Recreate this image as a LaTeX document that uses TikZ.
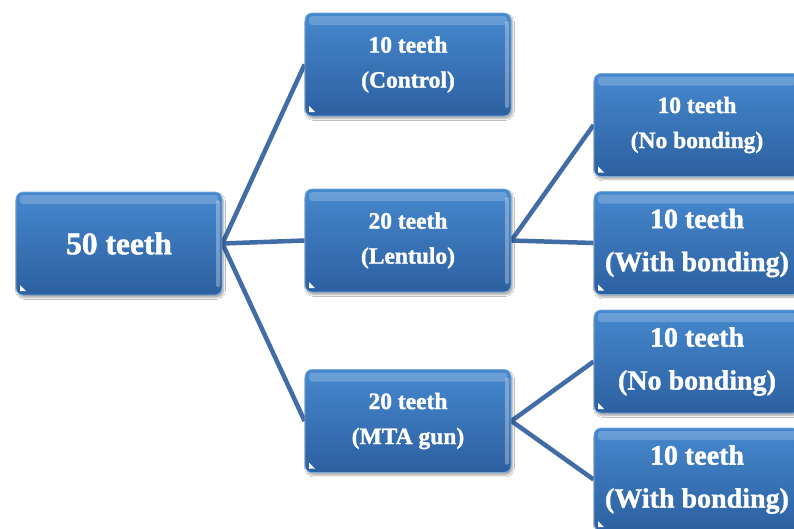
\documentclass[tikz,border=0pt]{standalone}
\usepackage{fontspec}
\setmainfont[BoldFeatures={FakeBold=1.3}]{Liberation Serif}
\usetikzlibrary{backgrounds,shadows.blur}
\definecolor{boxtop}{RGB}{70,136,206}
\definecolor{boxbot}{RGB}{44,96,160}
\definecolor{linkc}{RGB}{66,108,166}
\tikzset{
  tbox/.style={rectangle, rounded corners=7pt, minimum width=206pt, minimum height=103pt,
    inner sep=0pt, top color=boxtop, bottom color=boxbot, text=white, align=center,
    draw=boxtop!70!white, line width=0.8pt,
    blur shadow={shadow xshift=1.5pt, shadow yshift=-2.5pt, shadow blur steps=6, shadow opacity=35},
    path picture={
      \fill[white,opacity=0.2,rounded corners=3pt] ([xshift=4pt,yshift=-3pt]path picture bounding box.north west) rectangle ([xshift=-4pt,yshift=-12pt]path picture bounding box.north east);
      \fill[white,opacity=0.3,rounded corners=1.5pt] ([xshift=-6pt,yshift=-8pt]path picture bounding box.north east) rectangle ([xshift=-2pt,yshift=8pt]path picture bounding box.south east);
      \fill[white,sharp corners] ([xshift=4pt,yshift=4pt]path picture bounding box.south west) -- ++(6pt,0pt) -- ++(-6pt,6pt) -- cycle;
    }},
  smalltxt/.style={font=\fontsize{23.5pt}{35pt}\selectfont\bfseries},
  bigtxt/.style={font=\fontsize{28pt}{43pt}\selectfont\bfseries},
  roottxt/.style={font=\fontsize{31.5pt}{38pt}\selectfont\bfseries},
  link/.style={draw=linkc, line width=4.5pt}
}
\begin{document}
\begin{tikzpicture}[x=1pt,y=-1pt]
\useasboundingbox (0,0) rectangle (794,528);
\node[tbox, roottxt] (root) at (119,243.5) {50 teeth};
\node[tbox, smalltxt] (ctrl) at (408,64.5) {10 teeth\\(Control)};
\node[tbox, smalltxt] (lent) at (408,240.5) {20 teeth\\(Lentulo)};
\node[tbox, smalltxt] (mta) at (408,421) {20 teeth\\(MTA gun)};
\node[tbox, smalltxt] (nb1) at (697,125) {10 teeth\\(No bonding)};
\node[tbox, bigtxt] (wb1) at (697,243) {10 teeth\\(With bonding)};
\node[tbox, bigtxt] (nb2) at (697,361.5) {10 teeth\\(No bonding)};
\node[tbox, bigtxt] (wb2) at (697,479.5) {10 teeth\\(With bonding)};
\begin{scope}[on background layer]
\fill[white] (0,0) rectangle (794,528);
\draw[link] (root.east) -- (ctrl.west);
\draw[link] (root.east) -- (lent.west);
\draw[link] (root.east) -- (mta.west);
\draw[link] (lent.east) -- (nb1.west);
\draw[link] (lent.east) -- (wb1.west);
\draw[link] (mta.east) -- (nb2.west);
\draw[link] (mta.east) -- (wb2.west);
\end{scope}
\end{tikzpicture}
\end{document}
